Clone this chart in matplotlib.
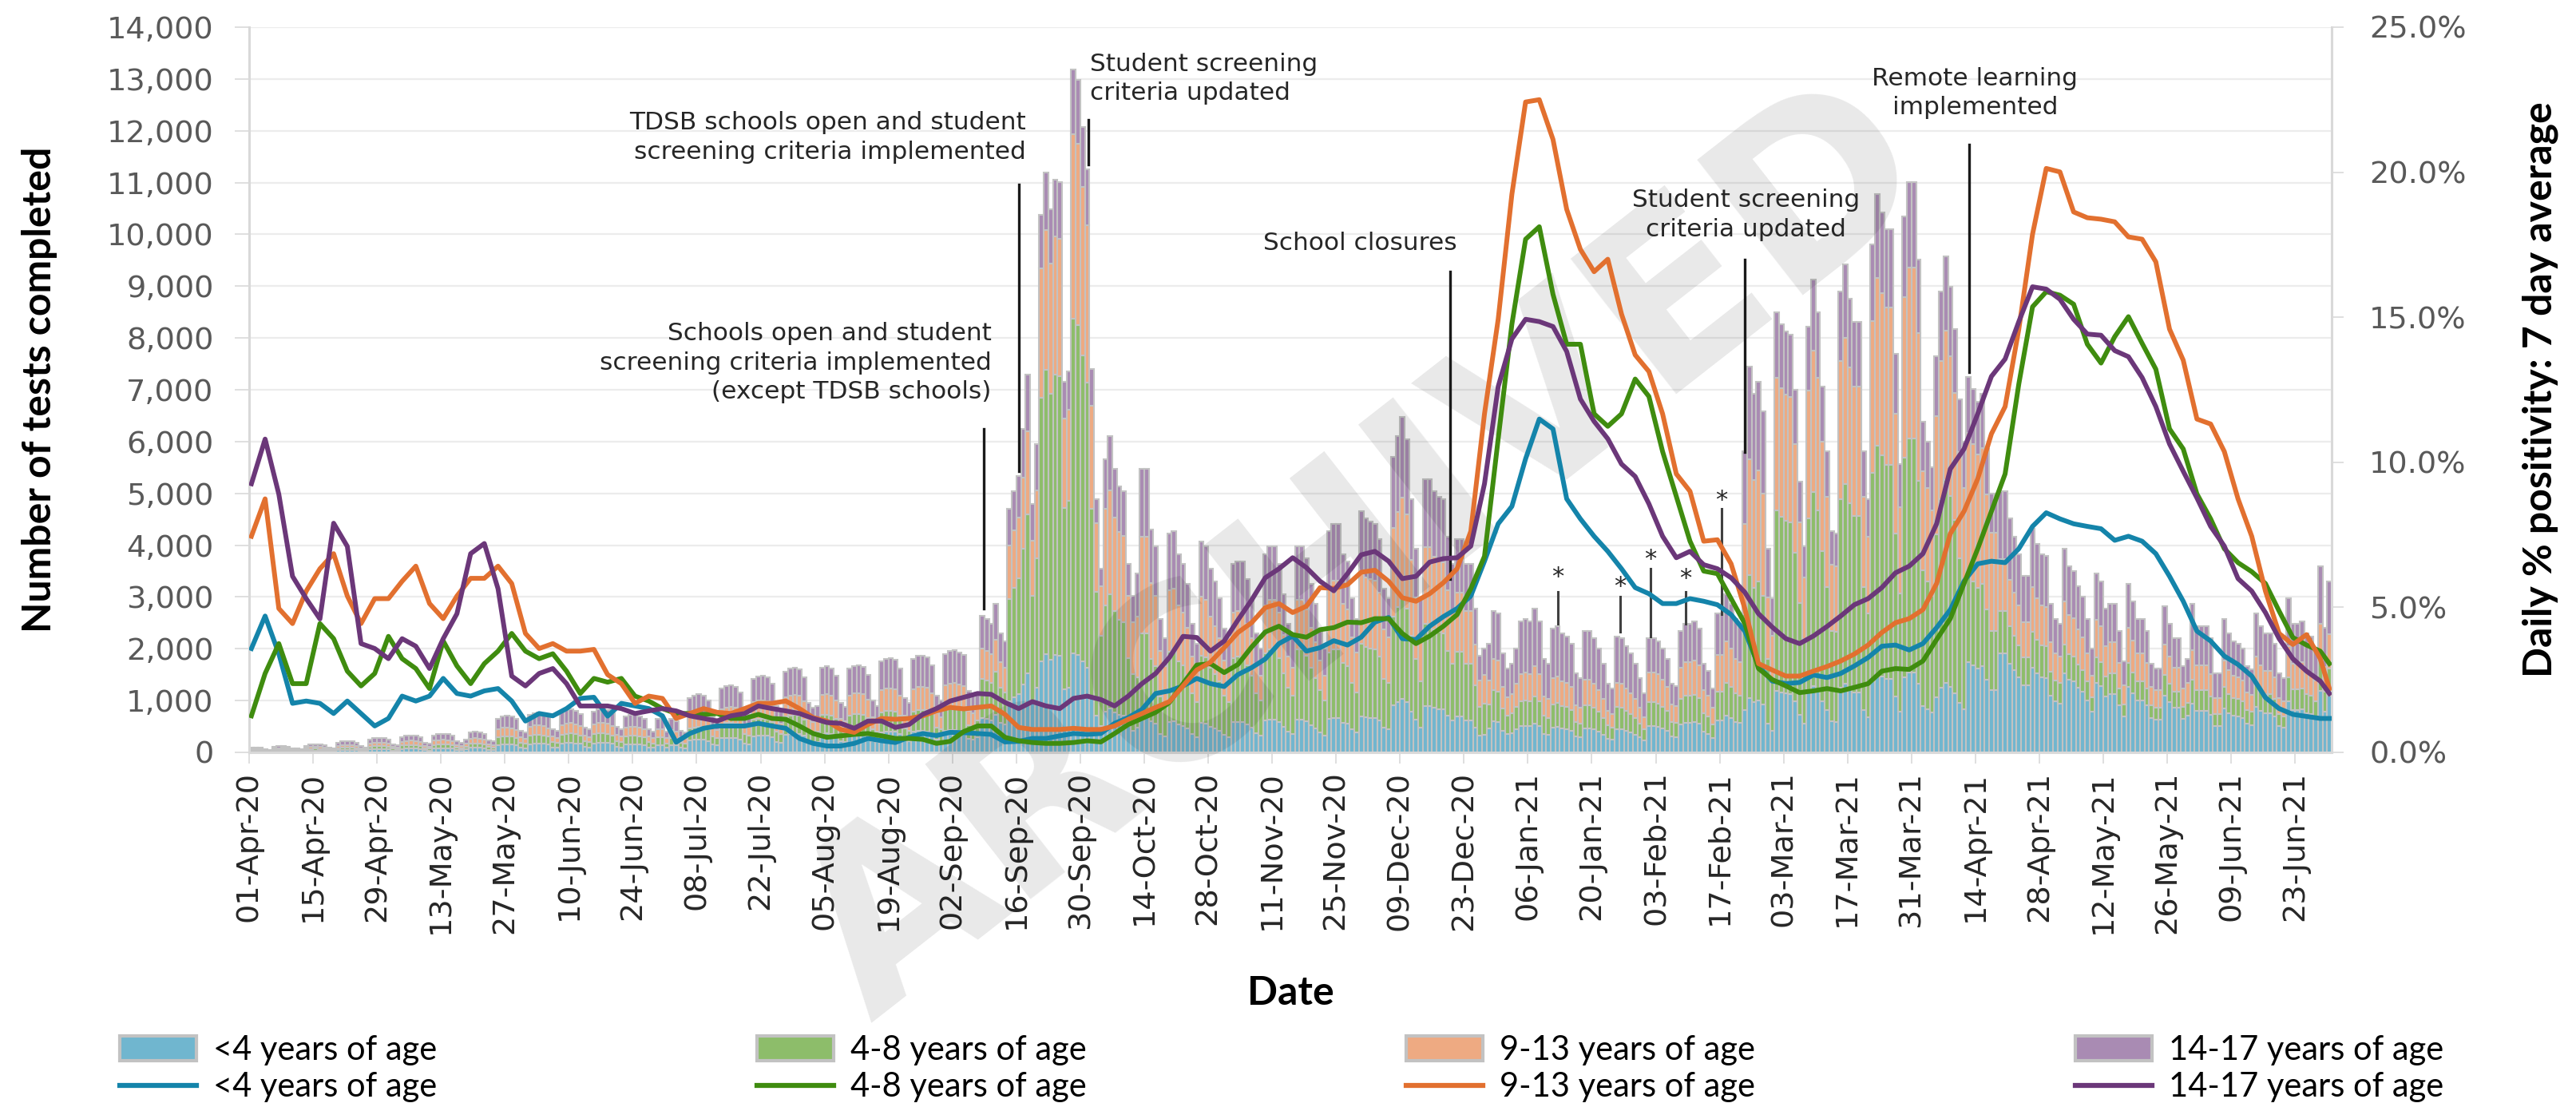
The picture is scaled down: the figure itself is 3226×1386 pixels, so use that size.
import numpy as np
import pandas as pd
import matplotlib
matplotlib.use('Agg')
import matplotlib.pyplot as plt
from matplotlib.patches import Patch
from matplotlib.lines import Line2D
from matplotlib.ticker import FuncFormatter

dates = pd.date_range('2020-04-01', '2021-06-30', freq='D')

# daily tests completed; first row is Wed 01-Apr-20 .. Sun 05-Apr-20, then one row per week (Mon..Sun)
tests_by_week = [
    [90, 100, 95, 60, 50],
    [110, 120, 125, 115, 80, 70, 60],
    [130, 150, 160, 155, 140, 90, 80],
    [190, 210, 215, 210, 190, 120, 100],
    [250, 270, 280, 270, 250, 160, 140],
    [300, 320, 330, 320, 290, 190, 170],
    [330, 350, 360, 350, 320, 210, 190],
    [250, 390, 400, 390, 360, 230, 210],
    [650, 700, 710, 690, 640, 420, 380],
    [720, 760, 770, 750, 690, 450, 410],
    [780, 820, 830, 800, 740, 480, 440],
    [790, 830, 840, 810, 750, 500, 450],
    [700, 720, 730, 700, 650, 450, 400],
    [650, 660, 400, 640, 600, 420, 380],
    [1050, 1100, 1120, 1100, 1000, 700, 640],
    [1230, 1280, 1290, 1270, 1150, 800, 730],
    [1420, 1470, 1480, 1450, 1320, 900, 820],
    [1560, 1620, 1630, 1600, 1450, 950, 870],
    [900, 1640, 1660, 1620, 1480, 960, 880],
    [1620, 1670, 1680, 1650, 1500, 1000, 900],
    [1760, 1810, 1820, 1790, 1620, 1050, 950],
    [1800, 1860, 1870, 1840, 1680, 1100, 1000],
    [1900, 1960, 1970, 1920, 1880, 1180, 1100],
    [1150, 2630, 2580, 2490, 2870, 2300, 2150],
    [4700, 5040, 5330, 6240, 7300, 4800, 5950],
    [10380, 11200, 10480, 11060, 11010, 7160, 7350],
    [13180, 12990, 12070, 11250, 7400, 4890, 3550],
    [5660, 6100, 5470, 5130, 5040, 3640, 3020],
    [3450, 5470, 5470, 4300, 3980, 2580, 2200],
    [4220, 4270, 3830, 3640, 3260, 2490, 2100],
    [4070, 3980, 3550, 3300, 2970, 2390, 2100],
    [3640, 3690, 3690, 3350, 2970, 2290, 2000],
    [3830, 3980, 3980, 3640, 3060, 2490, 2200],
    [3980, 3980, 3740, 3260, 2870, 2390, 2000],
    [4270, 4410, 4410, 3830, 3690, 2970, 2580],
    [4650, 4510, 4460, 4410, 4120, 3160, 2970],
    [5710, 6100, 6480, 6050, 4890, 3930, 2970],
    [5280, 5280, 5040, 4940, 4890, 4170, 3640],
    [4120, 4120, 3640, 3640, 2770, 1860, 2000],
    [2100, 2730, 2680, 1910, 1620, 1710, 2000],
    [2530, 2580, 2530, 2770, 2530, 1810, 1710],
    [2390, 2440, 2290, 2240, 2100, 1520, 1430],
    [2340, 2340, 2200, 2000, 1710, 1330, 1230],
    [2240, 2200, 2050, 1910, 1710, 1430, 1140],
    [2200, 2200, 2150, 2000, 1810, 1330, 1280],
    [2340, 2490, 2490, 2530, 2390, 1710, 1570],
    [1230, 2680, 2680, 3060, 2870, 2580, 2490],
    [5810, 7450, 6920, 7160, 6580, 3930, 2970],
    [8500, 8270, 8120, 8070, 7000, 5230, 3980],
    [8220, 9130, 8500, 7060, 5810, 4270, 4220],
    [8890, 9420, 8750, 8310, 8310, 5810, 4890],
    [9800, 10770, 10430, 10100, 10100, 7690, 5570],
    [10340, 11010, 11010, 9520, 6390, 6000, 5500],
    [7640, 8890, 9570, 8990, 8170, 6820, 6000],
    [7250, 7010, 6770, 6920, 5860, 4990, 4990],
    [5040, 5040, 4510, 4170, 3830, 3400, 3400],
    [4320, 4030, 3830, 3790, 2870, 2580, 2490],
    [3930, 3590, 3500, 3210, 3000, 2580, 2000],
    [3450, 3300, 2770, 2870, 2870, 2340, 1760],
    [3260, 2920, 2580, 2580, 2340, 1710, 1620],
    [1620, 2820, 2490, 2200, 2200, 1670, 1810],
    [2870, 2440, 2440, 2440, 2200, 1520, 1520],
    [2580, 2300, 2150, 2100, 2000, 1670, 1600],
    [2680, 2440, 2290, 2290, 2100, 1520, 1430],
    [2970, 2490, 2490, 2530, 2290, 2240, 2000],
    [3590, 2400, 3300],
]

# share of each week's tests by age group (14-17 is the rest)
share_lt4 = [0.22, 0.22, 0.22, 0.22, 0.22, 0.22, 0.22, 0.22, 0.22, 0.22, 0.22, 0.22,
             0.22, 0.22, 0.22, 0.22, 0.22, 0.22, 0.22, 0.22, 0.22, 0.22, 0.22,
             0.25, 0.21, 0.17, 0.145, 0.14, 0.14, 0.14, 0.14, 0.16, 0.16, 0.16,
             0.15, 0.15, 0.16, 0.17, 0.17, 0.22, 0.20, 0.20, 0.20, 0.20, 0.23,
             0.23, 0.23, 0.14, 0.14, 0.14, 0.14, 0.14, 0.14, 0.14, 0.24, 0.38,
             0.38, 0.39, 0.39, 0.39, 0.39, 0.33, 0.33, 0.33, 0.33, 0.33]
share_4to8 = [0.22, 0.22, 0.22, 0.22, 0.22, 0.22, 0.22, 0.22, 0.22, 0.22, 0.22, 0.22,
              0.22, 0.22, 0.22, 0.22, 0.22, 0.22, 0.22, 0.22, 0.22, 0.22, 0.22,
              0.29, 0.42, 0.49, 0.49, 0.36, 0.28, 0.32, 0.32, 0.34, 0.34, 0.34,
              0.30, 0.30, 0.30, 0.30, 0.30, 0.22, 0.19, 0.19, 0.19, 0.19, 0.21,
              0.21, 0.21, 0.32, 0.41, 0.41, 0.41, 0.41, 0.41, 0.41, 0.23, 0.16,
              0.16, 0.14, 0.14, 0.14, 0.14, 0.16, 0.16, 0.16, 0.16, 0.16]
share_9to13 = [0.24, 0.24, 0.24, 0.24, 0.24, 0.24, 0.24, 0.24, 0.24, 0.24, 0.24, 0.24,
               0.24, 0.24, 0.24, 0.24, 0.24, 0.24, 0.24, 0.24, 0.24, 0.24, 0.24,
               0.22, 0.22, 0.24, 0.27, 0.33, 0.34, 0.28, 0.28, 0.24, 0.24, 0.24,
               0.30, 0.30, 0.30, 0.28, 0.28, 0.22, 0.21, 0.21, 0.21, 0.21, 0.26,
               0.26, 0.26, 0.30, 0.30, 0.30, 0.30, 0.30, 0.30, 0.30, 0.38, 0.20,
               0.20, 0.21, 0.21, 0.21, 0.21, 0.20, 0.20, 0.20, 0.20, 0.20]

# 7 day average positivity (%), read every third day (day 0 = 01-Apr-20)
pos_days = list(range(0, 454, 3)) + [455]
pos_lt4 = [3.58, 4.7, 3.4, 1.69, 1.77, 1.69, 1.34, 1.77, 1.34, 0.91, 1.17, 1.94, 1.77, 1.94,
           2.55, 2.03, 1.94, 2.12, 2.2, 1.77, 1.08, 1.34, 1.26, 1.51, 1.86, 1.9, 1.25, 1.69,
           1.6, 1.51, 1.26, 0.35, 0.65, 0.83, 0.91, 0.91, 0.91, 1.0, 0.91, 0.83, 0.48, 0.31,
           0.22, 0.22, 0.31, 0.48, 0.4, 0.34, 0.52, 0.65, 0.58, 0.69, 0.68, 0.65, 0.62, 0.36,
           0.38, 0.48, 0.48, 0.57, 0.65, 0.62, 0.65, 1.0, 1.2, 1.48, 2.03, 2.12, 2.29, 2.55,
           2.37, 2.27, 2.68, 2.92, 3.22, 3.75, 4.01, 3.49, 3.61, 3.85, 3.7, 3.97, 4.49, 4.65,
           3.92, 3.89, 4.35, 4.68, 4.96, 5.39, 6.59, 7.88, 8.48, 10.12, 11.49, 11.15, 8.74,
           8.05, 7.45, 6.93, 6.33, 5.68, 5.47, 5.13, 5.13, 5.3, 5.21, 5.09, 4.75, 4.18, 2.98,
           2.46, 2.37, 2.41, 2.67, 2.58, 2.72, 2.98, 3.27, 3.66, 3.7, 3.53, 3.75, 4.3, 4.92,
           5.9, 6.5, 6.59, 6.54, 7.02, 7.79, 8.26, 8.05, 7.88, 7.79, 7.71, 7.31, 7.45, 7.28,
           6.85, 6.07, 5.21, 4.18, 3.84, 3.32, 3.03, 2.63, 1.89, 1.51, 1.31, 1.24, 1.17, 1.17]
pos_4to8 = [1.26, 2.72, 3.75, 2.37, 2.37, 4.44, 3.92, 2.8, 2.29, 2.72, 4.0, 3.23, 2.89, 2.2,
            3.84, 2.98, 2.37, 3.06, 3.49, 4.1, 3.49, 3.23, 3.4, 2.8, 2.03, 2.55, 2.42, 2.55,
            1.94, 1.77, 1.51, 1.34, 1.34, 1.31, 1.34, 1.17, 1.17, 1.31, 1.17, 1.14, 0.91, 0.65,
            0.52, 0.57, 0.62, 0.65, 0.57, 0.48, 0.48, 0.45, 0.31, 0.38, 0.72, 0.91, 0.91, 0.52,
            0.4, 0.34, 0.31, 0.31, 0.34, 0.4, 0.36, 0.65, 0.96, 1.17, 1.38, 1.72, 2.37, 3.01,
            3.06, 2.75, 3.03, 3.63, 4.15, 4.35, 4.06, 3.97, 4.23, 4.3, 4.49, 4.47, 4.61, 4.61,
            4.1, 3.75, 4.01, 4.35, 4.75, 5.64, 6.76, 10.81, 14.76, 17.69, 18.12, 15.79, 14.07,
            14.07, 11.67, 11.24, 11.67, 12.87, 12.27, 10.37, 8.83, 7.28, 6.25, 6.16, 5.3, 4.44,
            2.89, 2.51, 2.29, 2.06, 2.12, 2.2, 2.12, 2.24, 2.37, 2.8, 2.89, 2.86, 3.15, 3.89,
            4.61, 5.82, 7.02, 8.31, 9.6, 12.7, 15.36, 15.88, 15.76, 15.45, 14.07, 13.42, 14.33,
            15.02, 14.1, 13.21, 11.15, 10.46, 8.91, 8.05, 7.02, 6.54, 6.23, 5.82, 4.87, 3.96,
            3.7, 3.49, 3.06]
pos_9to13 = [7.45, 8.74, 4.96, 4.44, 5.56, 6.33, 6.85, 5.39, 4.44, 5.3, 5.3, 5.9, 6.42, 5.13,
             4.61, 5.39, 6.0, 6.0, 6.42, 5.82, 4.1, 3.58, 3.75, 3.49, 3.49, 3.55, 2.68, 2.37,
             1.69, 1.94, 1.86, 1.17, 1.34, 1.51, 1.38, 1.34, 1.51, 1.69, 1.69, 1.77, 1.51, 1.2,
             1.08, 0.79, 0.69, 0.96, 1.17, 1.14, 1.17, 1.26, 1.43, 1.55, 1.5, 1.55, 1.6, 1.31,
             0.86, 0.79, 0.79, 0.79, 0.83, 0.79, 0.79, 0.91, 1.14, 1.34, 1.55, 1.75, 2.29, 2.84,
             3.11, 3.61, 4.13, 4.47, 4.99, 5.13, 4.82, 5.04, 5.68, 5.65, 5.78, 6.21, 6.28, 5.9,
             5.33, 5.21, 5.47, 5.85, 6.33, 7.62, 11.67, 14.93, 19.24, 22.42, 22.5, 21.13, 18.72,
             17.34, 16.57, 17.0, 15.11, 13.7, 13.13, 11.67, 9.6, 9.0, 7.28, 7.33, 6.5, 4.96,
             3.06, 2.84, 2.63, 2.63, 2.8, 2.96, 3.15, 3.39, 3.7, 4.13, 4.47, 4.61, 4.92, 5.82,
             7.54, 8.31, 9.43, 10.98, 11.92, 14.59, 17.86, 20.13, 20.01, 18.63, 18.43, 18.38,
             18.29, 17.77, 17.69, 16.91, 14.59, 13.52, 11.49, 11.32, 10.37, 8.74, 7.45, 5.56,
             4.1, 3.72, 4.06, 3.23, 2.2]
pos_14to17 = [9.26, 10.8, 8.9, 6.07, 5.3, 4.6, 7.9, 7.1, 3.75, 3.58, 3.23, 3.92, 3.66, 2.89,
              3.92, 4.78, 6.85, 7.2, 5.64, 2.63, 2.29, 2.72, 2.89, 2.37, 1.6, 1.6, 1.6, 1.51,
              1.34, 1.43, 1.51, 1.43, 1.26, 1.17, 1.08, 1.26, 1.34, 1.6, 1.51, 1.43, 1.34, 1.17,
              1.03, 1.0, 0.83, 1.08, 1.08, 0.86, 0.96, 1.31, 1.51, 1.77, 1.9, 2.03, 2.0, 1.72,
              1.51, 1.75, 1.6, 1.51, 1.86, 1.94, 1.82, 1.6, 1.94, 2.37, 2.72, 3.27, 4.0, 3.96,
              3.49, 3.84, 4.56, 5.25, 6.02, 6.33, 6.71, 6.37, 5.9, 5.57, 6.16, 6.81, 6.93, 6.59,
              5.99, 6.07, 6.56, 6.68, 6.71, 7.11, 9.26, 12.61, 14.25, 14.93, 14.85, 14.68, 13.82,
              12.18, 11.41, 10.81, 9.94, 9.51, 8.57, 7.45, 6.71, 6.93, 6.47, 6.33, 6.02, 5.52,
              4.78, 4.32, 3.92, 3.75, 4.01, 4.34, 4.7, 5.09, 5.3, 5.68, 6.19, 6.42, 6.85, 7.88,
              9.77, 10.46, 11.67, 12.96, 13.56, 14.85, 16.05, 15.97, 15.62, 14.93, 14.42, 14.38,
              13.85, 13.64, 12.92, 11.92, 10.63, 9.69, 8.77, 7.79, 7.11, 5.99, 5.56, 4.82, 3.92,
              3.23, 2.8, 2.46, 2.03]

groups = ['<4 years of age', '4-8 years of age', '9-13 years of age', '14-17 years of age']
bar_colors = ['#70b6cf', '#8dbd6a', '#eeaa82', '#a98bb3']
line_colors = ['#1484aa', '#3f8c0f', '#e2702f', '#6b3779']

# split daily totals into age groups
total = np.concatenate([np.array(w, dtype=float) for w in tests_by_week])
week_len = [len(w) for w in tests_by_week]
lt4 = total * np.repeat(share_lt4, week_len)
a48 = total * np.repeat(share_4to8, week_len)
a913 = total * np.repeat(share_9to13, week_len)
a1417 = total - lt4 - a48 - a913
x = np.arange(len(dates))

fig = plt.figure(figsize=(32.26, 13.86), dpi=100)
ax = fig.add_axes([312 / 3226, 1 - 942 / 1386, (2920 - 312) / 3226, (942 - 34) / 1386])

bottom = np.zeros(len(x))
for vals, c in zip([lt4, a48, a913, a1417], bar_colors):
    ax.bar(x, vals, bottom=bottom, width=1.0, color=c, edgecolor='#c2c2c2', linewidth=1.5, zorder=2)
    bottom += vals

ax.set_xlim(-0.5, len(x) - 0.5)
ax.set_ylim(0, 14000)
ax.set_yticks(range(0, 14001, 1000))
ax.yaxis.set_major_formatter(FuncFormatter(lambda v, p: f'{v:,.0f}'))
ax.yaxis.grid(True, color='#ececec', lw=1.6)
ax.set_axisbelow(True)

tick_idx = list(range(0, len(x), 14))
ax.set_xticks([i - 0.5 for i in tick_idx])
ax.set_xticklabels([dates[i].strftime('%d-%b-%y') for i in tick_idx], rotation=90)

for s in ['top', 'right']:
    ax.spines[s].set_visible(False)
for s in ['left', 'bottom']:
    ax.spines[s].set_color('#d9d9d9')
    ax.spines[s].set_linewidth(2.2)
ax.tick_params(axis='y', length=13, width=1.2, color='#d9d9d9', labelsize=27.5,
               labelcolor='#595959', pad=19)
ax.tick_params(axis='x', length=10, width=1.2, color='#d9d9d9', labelsize=27.5,
               labelcolor='#262626', pad=7)

# secondary axis with positivity lines
ax2 = ax.twinx()
ax2.set_ylim(0, 25)
ax2.set_yticks([0, 5, 10, 15, 20, 25])
ax2.yaxis.set_major_formatter(FuncFormatter(lambda v, p: f'{v:.1f}%'))
for s in ['top', 'left', 'bottom']:
    ax2.spines[s].set_visible(False)
ax2.spines['right'].set_color('#d9d9d9')
ax2.spines['right'].set_linewidth(2.2)
ax2.tick_params(axis='y', length=11, width=1.2, color='#d9d9d9', labelsize=27.5,
                labelcolor='#595959', pad=23)
for vals, c in zip([pos_lt4, pos_4to8, pos_9to13, pos_14to17], line_colors):
    ax2.plot(pos_days, vals, color=c, lw=4.3, solid_joinstyle='round', zorder=3)

# annotations
note_font = dict(family=['DejaVu Sans'], fontsize=22.5, color='#262626', linespacing=1.33)
ax.text(162.0, 7524, 'Schools open and student\nscreening criteria implemented\n(except TDSB schools)',
        ha='right', va='center', multialignment='right', zorder=6, **note_font)
ax.text(169.6, 11872, 'TDSB schools open and student\nscreening criteria implemented',
        ha='right', va='center', multialignment='right', zorder=6, **note_font)
ax.text(183.6, 13005, 'Student screening\ncriteria updated', ha='left', va='center',
        zorder=6, **note_font)
ax.text(242.8, 9822, 'School closures', ha='center', va='center', zorder=6, **note_font)
ax.text(327.3, 10377, 'Student screening\ncriteria updated', ha='center', va='center',
        multialignment='center', zorder=6, **note_font)
ax.text(377.4, 12728, 'Remote learning\nimplemented', ha='center', va='center',
        multialignment='center', zorder=6, **note_font)

note_lines = [(160.4, 6245, 2775), (168.0, 10962, 5427), (183.2, 12211, 11348),
              (262.5, 9282, 3346), (327.0, 9513, 5797), (376.2, 11733, 7339)]
for lx, y0, y1 in note_lines:
    ax.plot([lx, lx], [y0, y1], color='#1a1a1a', lw=2.4, zorder=6)

stars = [(286.0, 3392, 3099, 2482), (299.7, 3207, 3007, 2328), (306.3, 3731, 3546, 2236),
         (314.0, 3346, 3099, 2482), (321.9, 4857, 4703, 2667)]
for sx, sy, y0, y1 in stars:
    ax.text(sx, sy, '*', ha='center', va='center', fontsize=22, color='#262626', zorder=6)
    ax.plot([sx, sx], [y0, y1], color='#404040', lw=2.2, zorder=6)

# watermark across the middle of the chart
ax.text(0.53, 0.5, 'ARCHIVED', transform=fig.transFigure, rotation=38, fontsize=212,
        fontweight='bold', color='black', alpha=0.09, ha='center', va='center', zorder=5,
        clip_on=False, family=['DejaVu Sans'])

title_font = dict(family=['Lato', 'DejaVu Sans'], fontsize=36, fontweight='bold', color='black')
fig.text(50 / 3226, 1 - 488 / 1386, 'Number of tests completed', rotation=90,
         ha='center', va='center', **title_font)
fig.text(3181 / 3226, 1 - 488 / 1386, 'Daily % positivity: 7 day average', rotation=90,
         ha='center', va='center', **title_font)
fig.text(1616 / 3226, 1 - 1243 / 1386, 'Date', ha='center', va='center', **title_font)

handles, labels = [], []
for g, bc, lc in zip(groups, bar_colors, line_colors):
    handles.append(Patch(facecolor=bc, edgecolor='#c2c2c2', linewidth=3))
    labels.append(g)
    handles.append(Line2D([], [], color=lc, lw=4.5))
    labels.append(g)
fig.legend(handles, labels, ncol=4, loc='lower left',
           bbox_to_anchor=(150 / 3226, 0.004, (3060 - 150) / 3226, 0), mode='expand',
           frameon=False, prop={'family': ['Lato', 'DejaVu Sans'], 'size': 30},
           handlelength=2.3, handleheight=0.75, handletextpad=0.5, labelspacing=0.2,
           borderaxespad=0, borderpad=0)

fig.savefig('out.png', dpi=100)
